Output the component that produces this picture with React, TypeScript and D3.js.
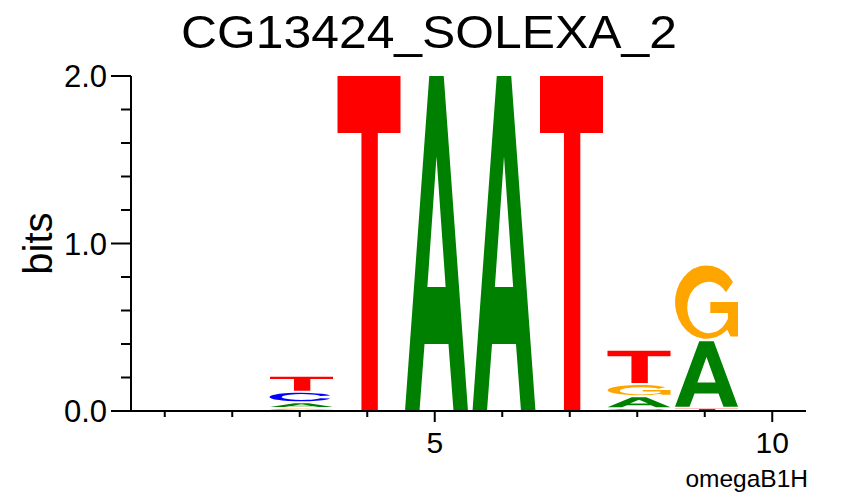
import React, { useEffect, useRef } from 'react';
import * as d3 from 'd3';

// sequence logo data, bits per base at each position
const positions = [1, 2, 3, 4, 5, 6, 7, 8, 9, 10];
const bitsA = [0, 0, 0.032, 0, 2.0, 2.0, 0, 0.072, 0.402, 0];
const bitsC = [0, 0, 0.063, 0, 0, 0, 0, 0.010, 0, 0];
const bitsG = [0, 0, 0.014, 0, 0, 0, 0, 0.073, 0.45, 0];
const bitsT = [0, 0, 0.096, 2.0, 0, 0, 2.0, 0.205, 0.014, 0];
const yTicks = [0, 1, 2];
const xTicks = [5, 10];

const colors: Record<string, string> = { A: '#008000', C: '#0000ff', G: '#ffa500', T: '#ff0000' };

// glyph outlines in a 100x100 box
const glyphs: Record<string, string> = {
  A: 'M0,100L38.5,0H61.5L100,100H77L69,80H31L23,100Z M35.5,63L50,24L64.5,63Z',
  C: 'M96,32A50,50 0 1,0 96,68L80,63A32,34 0 1,1 80,37Z',
  G: 'M92,22A50,50 0 1,0 83,87L88,96H100V49H56V64H84V72A34,35 0 1,1 81,36Z',
  T: 'M0,0H100V17H64V100H38V17H0Z',
};

const App = () => {
  const ref = useRef<SVGSVGElement>(null);

  useEffect(() => {
    const svg = d3.select(ref.current);
    svg.selectAll('*').remove();

    const xScale = d3.scaleLinear().domain([0.5, 10.5]).range([131, 806]);
    const yScale = d3.scaleLinear().domain([0, 2]).range([411, 76]);
    const font = '"Liberation Sans", Arial, Helvetica, sans-serif';

    // title
    svg.append('text')
      .attr('x', 429)
      .attr('y', 48)
      .attr('text-anchor', 'middle')
      .attr('textLength', 496)
      .attr('lengthAdjust', 'spacingAndGlyphs')
      .style('font-family', font)
      .style('font-size', '47px')
      .text('CG13424_SOLEXA_2');

    // letters, smallest at the bottom of each stack
    const step = xScale(2) - xScale(1);
    positions.forEach((p, i) => {
      const stack = [
        { base: 'A', bits: bitsA[i] },
        { base: 'C', bits: bitsC[i] },
        { base: 'G', bits: bitsG[i] },
        { base: 'T', bits: bitsT[i] },
      ].filter(d => d.bits > 0).sort((a, b) => a.bits - b.bits);

      let cum = 0;
      stack.forEach((d, k) => {
        const yb = yScale(cum);
        const yt = yScale(cum + d.bits);
        cum += d.bits;
        const gap = k > 0 ? Math.min(2, (yb - yt) * 0.3) : 0;
        const h = Math.max(1.5, yb - yt - gap);
        const x = xScale(p - 0.5) + 4;
        const w = step - 4.5;
        svg.append('path')
          .attr('d', glyphs[d.base])
          .attr('fill', colors[d.base])
          .attr('fill-rule', 'evenodd')
          .attr('transform', `translate(${x},${yt}) scale(${w / 100},${h / 100})`);
      });
    });

    const axis = svg.append('g').attr('stroke', '#000').attr('stroke-width', 2);

    // y axis
    axis.append('line')
      .attr('x1', 131).attr('x2', 131)
      .attr('y1', yScale(2)).attr('y2', yScale(0));
    d3.range(0, 2.001, 0.2).forEach(v => {
      const major = Math.abs(v - Math.round(v)) < 1e-6;
      axis.append('line')
        .attr('x1', major ? 111 : 121).attr('x2', 131)
        .attr('y1', yScale(v)).attr('y2', yScale(v));
    });
    yTicks.forEach(v => {
      svg.append('text')
        .attr('x', 107)
        .attr('y', yScale(v) + 11)
        .attr('text-anchor', 'end')
        .style('font-family', font)
        .style('font-size', '31px')
        .text(v.toFixed(1));
    });

    // x axis
    axis.append('line')
      .attr('x1', xScale(0.5)).attr('x2', xScale(10.5))
      .attr('y1', yScale(0)).attr('y2', yScale(0));
    positions.forEach(p => {
      const major = xTicks.includes(p);
      axis.append('line')
        .attr('x1', xScale(p)).attr('x2', xScale(p))
        .attr('y1', yScale(0)).attr('y2', yScale(0) + (major ? 11 : 6));
    });
    xTicks.forEach(p => {
      svg.append('text')
        .attr('x', xScale(p))
        .attr('y', 453)
        .attr('text-anchor', 'middle')
        .style('font-family', font)
        .style('font-size', '30px')
        .text(p);
    });

    // axis label
    svg.append('text')
      .attr('transform', `translate(52, ${yScale(1)}) rotate(-90)`)
      .attr('text-anchor', 'middle')
      .style('font-family', font)
      .style('font-size', '40px')
      .text('bits');

    svg.append('text')
      .attr('x', 808)
      .attr('y', 487)
      .attr('text-anchor', 'end')
      .style('font-family', font)
      .style('font-size', '24.5px')
      .text('omegaB1H');
  }, []);

  return (
    <svg
      ref={ref}
      width={858}
      height={496}
      style={{ position: 'absolute', left: 0, top: 0, background: '#fff' }}
    />
  );
};

export default App;
